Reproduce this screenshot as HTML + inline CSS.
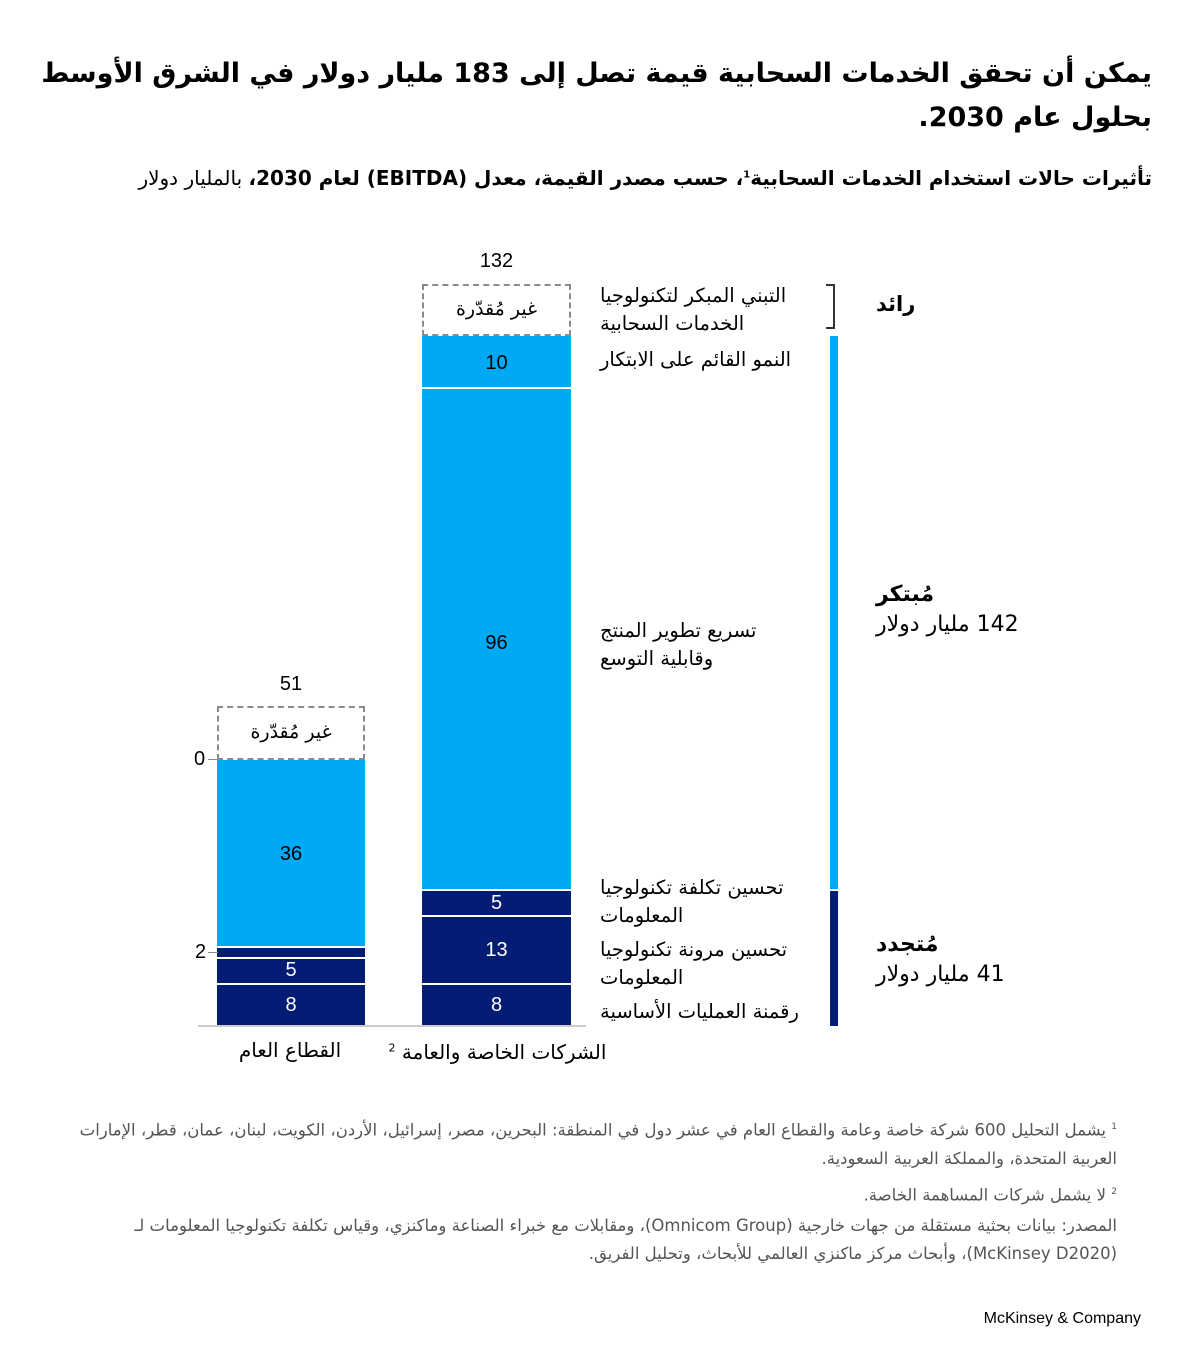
<!DOCTYPE html>
<html><head><meta charset="utf-8"><style>
body{margin:0;width:1200px;height:1368px;background:#fff;position:relative;overflow:hidden;font-family:"DejaVu Sans","Liberation Sans",sans-serif;color:#000}
.a{position:absolute}
.r{direction:rtl}
.t{right:48px;width:1125px;text-align:right;font-weight:bold;font-size:27px;line-height:44px}
.lab{position:absolute;left:600px;direction:rtl;text-align:left;font-size:19.5px;line-height:28px;white-space:nowrap}
.num{position:absolute;font-family:"Liberation Sans",sans-serif;font-size:20px;text-align:center}
.dash{position:absolute;border:2px dashed #8a8a8a;box-sizing:border-box;text-align:center;font-size:19px}
.fn{position:absolute;right:83px;direction:rtl;text-align:right;font-size:16.5px;color:#555;line-height:28px;width:1045px}
</style></head><body>
<div class="a r t" style="top:52px">يمكن أن تحقق الخدمات السحابية قيمة تصل إلى 183 مليار دولار في الشرق الأوسط<br>بحلول عام 2030.</div>
<div class="a r" style="top:166px;right:48px;font-size:20px;white-space:nowrap"><b>تأثيرات حالات استخدام الخدمات السحابية<sup style="font-size:10px">1</sup>، حسب مصدر القيمة، معدل (EBITDA) لعام 2030،</b> بالمليار دولار</div>

<!-- left bar -->
<div class="num" style="left:217px;width:148px;top:673px">51</div>
<div class="dash r" style="left:217px;top:706px;width:148px;height:54px;line-height:48px">غير مُقدّرة</div>
<div class="a" style="left:217px;top:760px;width:148px;height:186px;background:#00a9f4"></div>
<div class="num" style="left:217px;width:148px;top:843px">36</div>
<div class="a" style="left:217px;top:948px;width:148px;height:9px;background:#051c74"></div>
<div class="a" style="left:217px;top:959px;width:148px;height:24px;background:#051c74"></div>
<div class="num" style="left:217px;width:148px;top:959px;color:#fff">5</div>
<div class="a" style="left:217px;top:985px;width:148px;height:41px;background:#051c74"></div>
<div class="num" style="left:217px;width:148px;top:994px;color:#fff">8</div>
<div class="num" style="left:194px;top:748px">0</div>
<div class="a" style="left:208px;top:759px;width:10px;height:1px;background:#888"></div>
<div class="num" style="left:195px;top:941px">2</div>
<div class="a" style="left:208px;top:952px;width:10px;height:1px;background:#888"></div>

<!-- right bar -->
<div class="num" style="left:422px;width:149px;top:250px">132</div>
<div class="dash r" style="left:422px;top:284px;width:149px;height:52px;line-height:46px">غير مُقدّرة</div>
<div class="a" style="left:422px;top:336px;width:149px;height:51px;background:#00a9f4"></div>
<div class="num" style="left:422px;width:149px;top:352px">10</div>
<div class="a" style="left:422px;top:389px;width:149px;height:500px;background:#00a9f4"></div>
<div class="num" style="left:422px;width:149px;top:632px">96</div>
<div class="a" style="left:422px;top:891px;width:149px;height:24px;background:#051c74"></div>
<div class="num" style="left:422px;width:149px;top:892px;color:#fff">5</div>
<div class="a" style="left:422px;top:917px;width:149px;height:66px;background:#051c74"></div>
<div class="num" style="left:422px;width:149px;top:939px;color:#fff">13</div>
<div class="a" style="left:422px;top:985px;width:149px;height:41px;background:#051c74"></div>
<div class="num" style="left:422px;width:149px;top:994px;color:#fff">8</div>

<div class="a" style="left:198px;top:1025px;width:388px;height:2px;background:#ccc"></div>
<div class="a r" style="left:225px;width:130px;top:1038px;text-align:center;font-size:20px">القطاع العام</div>
<div class="a r" style="left:385px;width:225px;top:1040px;text-align:center;font-size:20px;white-space:nowrap">الشركات الخاصة والعامة <sup style="font-size:11px">2</sup></div>

<!-- labels -->
<div class="lab" style="top:282px">التبني المبكر لتكنولوجيا<br>الخدمات السحابية</div>
<div class="lab" style="top:346px">النمو القائم على الابتكار</div>
<div class="lab" style="top:617px">تسريع تطوير المنتج<br>وقابلية التوسع</div>
<div class="lab" style="top:874px">تحسين تكلفة تكنولوجيا<br>المعلومات</div>
<div class="lab" style="top:936px">تحسين مرونة تكنولوجيا<br>المعلومات</div>
<div class="lab" style="top:998px">رقمنة العمليات الأساسية</div>

<!-- right indicator -->
<div class="a" style="left:826px;top:284px;width:9px;height:45px;border:2px solid #333;border-left:none;box-sizing:border-box"></div>
<div class="a" style="left:830px;top:336px;width:8px;height:553px;background:#00a9f4"></div>
<div class="a" style="left:830px;top:891px;width:8px;height:135px;background:#051c74"></div>
<div class="a r" style="left:876px;top:292px;font-size:21px;font-weight:bold">رائد</div>
<div class="a r" style="left:876px;top:580px;font-size:22px;line-height:30px;text-align:left;white-space:nowrap"><b>مُبتكر</b><br>142 مليار دولار</div>
<div class="a r" style="left:876px;top:930px;font-size:22px;line-height:30px;text-align:left;white-space:nowrap"><b>مُتجدد</b><br>41 مليار دولار</div>

<!-- footnotes -->
<div class="fn" style="top:1113px"><sup style="font-size:9px">1</sup> يشمل التحليل 600 شركة خاصة وعامة والقطاع العام في عشر دول في المنطقة: البحرين، مصر، إسرائيل، الأردن، الكويت، لبنان، عمان، قطر، الإمارات العربية المتحدة، والمملكة العربية السعودية.</div>
<div class="fn" style="top:1178px"><sup style="font-size:9px">2</sup> لا يشمل شركات المساهمة الخاصة.</div>
<div class="fn" style="top:1212px">المصدر: بيانات بحثية مستقلة من جهات خارجية (Omnicom Group)، ومقابلات مع خبراء الصناعة وماكنزي، وقياس تكلفة تكنولوجيا المعلومات لـ (McKinsey D2020)، وأبحاث مركز ماكنزي العالمي للأبحاث، وتحليل الفريق.</div>
<div class="a" style="right:59px;top:1310px;font-family:'Liberation Sans',sans-serif;font-size:16px">McKinsey &amp; Company</div>
</body></html>
